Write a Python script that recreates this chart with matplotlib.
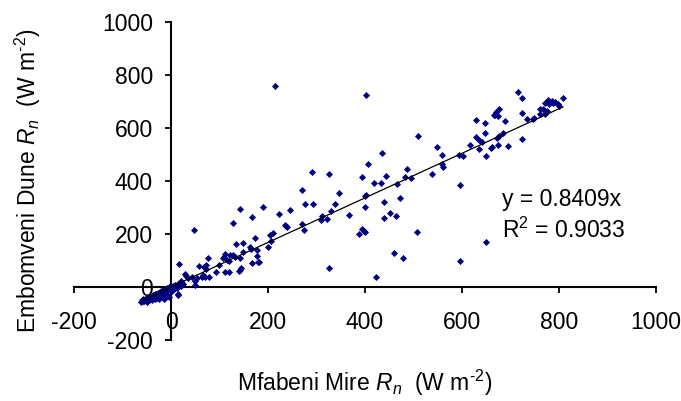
import matplotlib

matplotlib.use("Agg")
import matplotlib.pyplot as plt
import numpy as np

plt.rcParams["font.family"] = ["Liberation Sans", "DejaVu Sans"]
plt.rcParams["mathtext.fontset"] = "custom"
plt.rcParams["mathtext.rm"] = "Liberation Sans"
plt.rcParams["mathtext.it"] = "Liberation Sans:italic"
plt.rcParams["axes.unicode_minus"] = False

# Net radiation (W m-2), Mfabeni Mire vs Embomveni Dune
mire_rn = [
    # cluster near the origin
    -62, -60, -58, -57, -55, -54, -52, -50, -50, -48, -46, -45, -44, -42,
    -40, -40, -38, -36, -35, -34, -32, -30, -30, -28, -26, -25, -24, -22,
    -20, -20, -18, -16, -15, -14, -12, -12, -10, -8, -8, -6, -5, -4, -3,
    -2, 0, 2, 3, 4, 5, 6, 8, 8, 10, 12, 14, 15, 15, 18, 19, 20, 22, 25,
    # 0 - 250
    190, 142, 246, 222, 168, 128, 47, 235, 238, 240, 204, 210, 173, 134,
    148, 206, 163, 165, 201, 177, 112, 110, 107, 122, 128, 132, 77, 142,
    149, 177, 168, 180, 182, 119, 115, 98, 72, 69, 58, 72, 17, 92, 111,
    120, 142, 144, 140, 31, 29, 36, 43, 53, 63, 67, 70, 79, 50, 49, 21,
    16, 214,
    # 250 - 490
    402, 436, 406, 290, 326, 393, 443, 486, 419, 432, 467, 482, 271, 347,
    399, 402, 473, 276, 293, 338, 440, 400, 330, 312, 309, 321, 366, 452,
    464, 440, 271, 274, 393, 398, 401, 388, 459, 478, 325, 423,
    # 490 - 670
    628, 647, 667, 510, 629, 647, 635, 641, 616, 548, 559, 635, 660, 650,
    594, 603, 559, 561, 539, 495, 595, 508, 649, 595,
    # 670 - 810
    716, 724, 808, 771, 778, 785, 788, 780, 768, 775, 761, 771, 761, 748,
    746, 735, 671, 677, 668, 675, 689, 724, 684, 676, 673, 661, 675, 695,
    724, 792, 797, 800,
]
dune_rn = [
    -55, -50, -53, -47, -52, -45, -49, -42, -55, -46, -40, -50, -37, -44,
    -36, -48, -32, -40, -30, -45, -28, -35, -25, -40, -22, -30, -45, -20,
    -28, -15, -35, -12, -22, -45, -42, -8, -18, -5, -30, -12, -2, -38, -8,
    2, -5, 0, -15, 5, -8, 2, -3, 8, 5, -2, -27, 10, -30, 12, 16, 4, 14, 10,
    301, 295, 292, 276, 265, 241, 216, 233, 229, 225, 198, 204, 186, 163,
    165, 174, 151, 145, 151, 139, 124, 114, 108, 119, 119, 114, 111, 108,
    132, 116, 89, 93, 95, 99, 101, 83, 83, 76, 79, 68, 85, 57, 57,
    55, 66, 70, 61, 41, 48, 35, 39, 34, 39, 44, 36, 39, 23, 8, 22,
    15, 760,
    724, 504, 465, 435, 427, 414, 420, 444, 391, 391, 389, 414, 365, 355,
    345, 349, 335, 314, 314, 313, 319, 303, 286, 268, 254, 258, 271, 278,
    268, 259, 236, 214, 218, 210, 207, 200, 130, 110, 73, 38,
    632, 620, 649, 568, 567, 583, 554, 549, 537, 528, 498, 520, 524, 495,
    500, 494, 463, 453, 428, 413, 386, 206, 168, 98,
    735, 712, 712, 695, 705, 702, 695, 689, 670, 664, 670, 652, 652, 639,
    633, 633, 660, 670, 649, 645, 627, 655, 583, 570, 563, 527, 535, 533,
    558, 700, 692, 684,
]
slope = 0.8409
r_squared = 0.9033

x_ticks = [-200, 0, 200, 400, 600, 800, 1000]
y_ticks = [-200, 0, 200, 400, 600, 800, 1000]

fig = plt.figure(figsize=(6.81, 4.01), dpi=100)
ax = fig.add_axes([74 / 681, 61 / 401, 582 / 681, 318 / 401])

ax.scatter(mire_rn, dune_rn, marker="D", s=13, color="#000080", linewidths=0, zorder=3)
fit_x = np.array([min(mire_rn), max(mire_rn)])
ax.plot(fit_x, slope * fit_x, color="black", linewidth=0.9, zorder=4)

ax.set_xlim(-200, 1000)
ax.set_ylim(-200, 1000)
ax.set_xticks(x_ticks)
ax.set_yticks(y_ticks)
ax.spines["left"].set_position(("data", 0))
ax.spines["bottom"].set_position(("data", 0))
ax.spines["top"].set_visible(False)
ax.spines["right"].set_visible(False)
for side in ("left", "bottom"):
    ax.spines[side].set_linewidth(1.5)
ax.tick_params(axis="x", direction="out", length=4.5, width=1.3, pad=13, labelsize=16.5)
ax.tick_params(axis="y", direction="out", length=4.5, width=1.3, pad=8.5, labelsize=16.5)

# hyphen (not minus) in the unit exponent, as in the original
fig.text(365 / 681, 1 - 383 / 401, r"Mfabeni Mire $R_n$  (W m$^{\text{-}2}$)",
         ha="center", va="center", fontsize=16.5)
fig.text(28 / 681, 1 - 181 / 401, r"Embomveni Dune $R_n$  (W m$^{\text{-}2}$)",
         ha="center", va="center", rotation=90, fontsize=16.5)

fig.text(502 / 681, 1 - 206 / 401, f"y = {slope:.4f}x", ha="left",
         va="baseline", fontsize=16.5)
fig.text(502 / 681, 1 - 238 / 401, f"R$^2$ = {r_squared:.4f}", ha="left",
         va="baseline", fontsize=16.5)

fig.savefig("out.png", dpi=100)
